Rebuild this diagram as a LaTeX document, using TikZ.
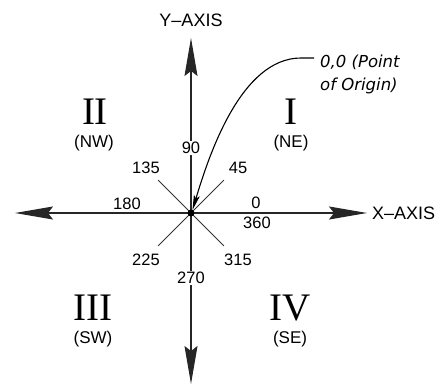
\documentclass[tikz,border=0pt]{standalone}
\usepackage{fontspec}
\setmainfont{Liberation Sans}
\newfontfamily\romfont{Liberation Serif}
\newfontfamily\notefont{DejaVu Sans}
\usetikzlibrary{arrows.meta,positioning,calc}

\begin{document}
\begin{tikzpicture}[x=1pt,y=1pt,
  axis/.style={line width=1.2pt, draw=black!85,
               -{Stealth[length=38pt, width=13pt, inset=5pt]}},
  ray/.style={line width=0.8pt, draw=black!80},
  deg/.style={font=\fontsize{16.5}{18}\selectfont, inner sep=1pt},
  axlabel/.style={font=\fontsize{18}{20}\selectfont, inner sep=0pt},
  quad/.style={font=\romfont\fontsize{39}{40}\selectfont, inner sep=0pt},
  dir/.style={font=\fontsize{17}{18}\selectfont, inner sep=0pt},
  note/.style={font=\notefont\itshape\fontsize{16.5}{23}\selectfont,
               align=left, inner sep=0pt},
  larr/.style={line width=1.1pt, -{Stealth[length=15pt, width=6pt, inset=3pt]}}
]
\useasboundingbox (-191,-172) rectangle (252,213);

% Origin and axis ends
\coordinate (o) at (0,0);
\coordinate (ytop) at (0,175);
\coordinate (ybot) at (0,-171);
\coordinate (xlft) at (-176,0);
\coordinate (xrgt) at (176,0);

% Axes
\draw[axis] (o) -- (ytop);
\draw[axis] (o) -- (ybot);
\draw[axis] (o) -- (xlft);
\draw[axis] (o) -- (xrgt);

% Diagonal rays
\foreach \a in {45,135,225,315}
  \draw[ray] (o) -- (\a:46.5);

% Axis labels
\node[axlabel, anchor=base] (ylab) at (0,186) {Y–AXIS};
\node[axlabel, anchor=west] (xlab) at (181,0) {X–AXIS};

% Degree labels
\node[deg, fill=white] (d90)  at (0,65)    {90};
\node[deg, fill=white] (d270) at (0,-65)   {270};
\node[deg] (d135) at (-45,45)  {135};
\node[deg] (d45)  at (47,45)   {45};
\node[deg] (d180) at (-64,9)   {180};
\node[deg] (d0)   at (65,10)   {0};
\node[deg] (d360) at (66,-10)  {360};
\node[deg] (d225) at (-45,-47) {225};
\node[deg] (d315) at (47,-47)  {315};

% Quadrants
\node[quad] (q2) at (-96,101)  {II};
\node[dir]  (nw) at (-97,70)   {(NW)};
\node[quad] (q1) at (100,101)  {I};
\node[dir]  (ne) at (100,70)   {(NE)};
\node[quad] (q3) at (-98,-95)  {III};
\node[dir]  (sw) at (-98,-126) {(SW)};
\node[quad] (q4) at (99,-95)   {IV};
\node[dir]  (se) at (99,-126)  {(SE)};

% Point of origin note
\node[note, anchor=north west] (orig) at (129,158.5) {0,0 (Point\\of Origin)};
\coordinate (lead) at ($(orig.north west)+(-6,-3.5)$);
\draw[larr] (lead) -- ++(-13,0) .. controls (50,155) and (18,58) .. (1.5,3);

\fill[black] (o) circle (3.5);
\end{tikzpicture}
\end{document}
